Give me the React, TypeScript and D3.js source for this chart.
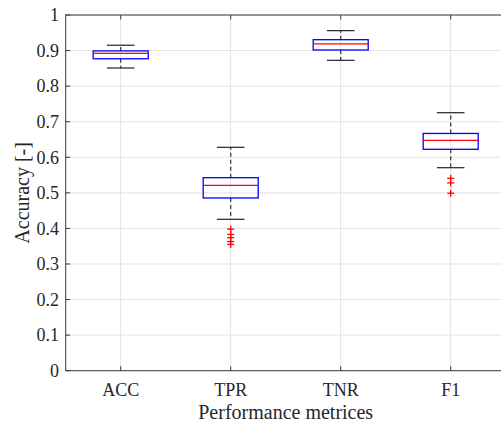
import React from "react";
import * as d3 from "d3";

const categories = ["ACC", "TPR", "TNR", "F1"];
const whiskerLow = [0.851, 0.4256, 0.8726, 0.5707];
const q1 = [0.877, 0.4856, 0.9016, 0.6224];
const medians = [0.892, 0.521, 0.919, 0.6477];
const q3 = [0.899, 0.5426, 0.9306, 0.667];
const whiskerHigh = [0.915, 0.628, 0.956, 0.7253];
const outliers: number[][] = [
  [],
  [0.398, 0.383, 0.374, 0.363, 0.355],
  [],
  [0.541, 0.528, 0.499],
];
const yTicks = [0, 0.1, 0.2, 0.3, 0.4, 0.5, 0.6, 0.7, 0.8, 0.9, 1];

const W = 501;
const H = 424;
const L = 65.7;
const R = 505.7;
const T = 15;
const B = 370.7;

export default function App() {
  const x = d3.scaleLinear().domain([0.5, 4.5]).range([L, R]);
  const y = d3.scaleLinear().domain([0, 1]).range([B, T]);
  const font = '"Times New Roman", "Liberation Serif", Tinos, "DejaVu Serif", serif';
  const axisColor = "#3a3a3a";
  const gridColor = "#e3e3e3";
  const tickLen = 4.5;
  const boxHalf = 0.25;
  const capHalf = 0.125;
  const mk = 3.5;

  return (
    <svg
      width={W}
      height={H}
      style={{ position: "absolute", left: 0, top: 0, background: "#fff", fontFamily: font }}
    >
      <rect x={0} y={0} width={W} height={H} fill="#fff" />
      {yTicks.map((t) => (
        <line key={"gy" + t} x1={L} x2={R} y1={y(t)} y2={y(t)} stroke={gridColor} strokeWidth={1} />
      ))}
      {categories.map((c, i) => (
        <line key={"gx" + c} x1={x(i + 1)} x2={x(i + 1)} y1={T} y2={B} stroke={gridColor} strokeWidth={1} />
      ))}
      {categories.map((c, i) => {
        const cx = x(i + 1);
        return (
          <g key={"b" + c}>
            <line x1={cx} x2={cx} y1={y(q3[i])} y2={y(whiskerHigh[i])} stroke="#333" strokeWidth={1.2} strokeDasharray="4,3" />
            <line x1={cx} x2={cx} y1={y(q1[i])} y2={y(whiskerLow[i])} stroke="#333" strokeWidth={1.2} strokeDasharray="4,3" />
            <line x1={x(i + 1 - capHalf)} x2={x(i + 1 + capHalf)} y1={y(whiskerHigh[i])} y2={y(whiskerHigh[i])} stroke="#222" strokeWidth={1.2} />
            <line x1={x(i + 1 - capHalf)} x2={x(i + 1 + capHalf)} y1={y(whiskerLow[i])} y2={y(whiskerLow[i])} stroke="#222" strokeWidth={1.2} />
            <rect
              x={x(i + 1 - boxHalf)}
              y={y(q3[i])}
              width={x(i + 1 + boxHalf) - x(i + 1 - boxHalf)}
              height={y(q1[i]) - y(q3[i])}
              fill="none"
              stroke="#0000ff"
              strokeWidth={1.3}
            />
            <line x1={x(i + 1 - boxHalf)} x2={x(i + 1 + boxHalf)} y1={y(medians[i])} y2={y(medians[i])} stroke="#ff0000" strokeWidth={1.3} />
            {outliers[i].map((v, j) => (
              <g key={"o" + j} stroke="#ff0000" strokeWidth={1.3}>
                <line x1={cx - mk} x2={cx + mk} y1={y(v)} y2={y(v)} />
                <line x1={cx} x2={cx} y1={y(v) - mk} y2={y(v) + mk} />
              </g>
            ))}
          </g>
        );
      })}
      <rect x={L} y={T} width={R - L} height={B - T} fill="none" stroke={axisColor} strokeWidth={1} />
      {yTicks.map((t) => (
        <g key={"ty" + t}>
          <line x1={L} x2={L + tickLen} y1={y(t)} y2={y(t)} stroke={axisColor} strokeWidth={1} />
          <text x={59} y={y(t)} dy="0.35em" textAnchor="end" fontFamily={font} fontSize={18} fill="#262626">
            {String(t)}
          </text>
        </g>
      ))}
      {categories.map((c, i) => (
        <g key={"tx" + c}>
          <line x1={x(i + 1)} x2={x(i + 1)} y1={B} y2={B - tickLen} stroke={axisColor} strokeWidth={1} />
          <line x1={x(i + 1)} x2={x(i + 1)} y1={T} y2={T + tickLen} stroke={axisColor} strokeWidth={1} />
          <text x={x(i + 1)} y={395.5} textAnchor="middle" fontFamily={font} fontSize={18} fill="#262626">
            {c}
          </text>
        </g>
      ))}
      <text x={(L + R) / 2} y={419} textAnchor="middle" fontFamily={font} fontSize={20} fill="#262626">
        Performance metrices
      </text>
      <text
        transform={`translate(29, ${(T + B) / 2}) rotate(-90)`}
        textAnchor="middle"
        fontFamily={font}
        fontSize={20}
        fill="#262626"
      >
        Accuracy [-]
      </text>
    </svg>
  );
}
